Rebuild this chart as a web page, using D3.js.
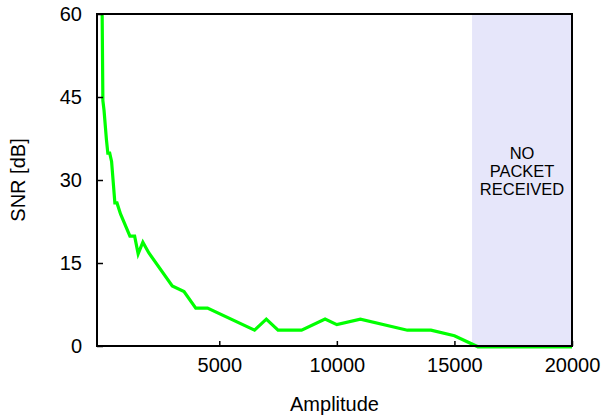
<!DOCTYPE html>
<html>
<head>
<meta charset="utf-8">
<script src="https://cdn.jsdelivr.net/npm/d3@7"></script>
<style>
body { margin: 0; background: #fff; }
text { font-family: "Liberation Sans", Arial, Helvetica, sans-serif; fill: #000; }
</style>
</head>
<body>
<div id="chart"></div>
<script>
// amplitude vs SNR
var amplitude = [0, 50, 100, 200, 260, 340, 420, 560, 650, 800, 1200, 1400, 1550, 1750, 2000,
  3000, 3500, 4000, 4500, 6500, 7000, 7500, 8500, 9500, 10000, 11000, 13000, 14000, 15000, 16000, 20000];
var snr = [70, 44.5, 42.7, 37.5, 35, 35, 33.5, 26, 26, 24, 20, 20, 16.8, 18.9, 17,
  11, 10, 7, 7, 3, 5, 3, 3, 5, 4, 5, 3, 3, 2, 0, 0];
var xTicks = [5000, 10000, 15000, 20000];
var yTicks = [0, 15, 30, 45, 60];
var noPacketFrom = 15750;
var noPacketLines = ["NO", "PACKET", "RECEIVED"];

var width = 605, height = 416;
var m = {left: 97, right: 33, top: 14, bottom: 70};
var w = width - m.left - m.right, h = height - m.top - m.bottom;

var svg = d3.select("#chart").append("svg").attr("width", width).attr("height", height);
var g = svg.append("g").attr("transform", "translate(" + m.left + "," + m.top + ")");

var x = d3.scaleLinear().domain([-200, 20000]).range([0, w]);
var y = d3.scaleLinear().domain([0, 60]).range([h, 0]);

// let the line show a bit under the bottom axis, like the original
g.append("clipPath").attr("id", "clip")
  .append("rect").attr("width", w).attr("height", h + 3);

// shaded area
g.append("rect")
  .attr("x", x(noPacketFrom)).attr("y", 0)
  .attr("width", x(20000) - x(noPacketFrom)).attr("height", h)
  .attr("fill", "#e6e6fa");

g.append("g").selectAll("text")
  .data(noPacketLines)
  .enter().append("text")
    .attr("x", (x(noPacketFrom) + x(20000)) / 2)
    .attr("y", function(d, i) { return 145 + i * 18; })
    .attr("text-anchor", "middle")
    .style("font-size", "16.5px")
    .text(function(d) { return d; });

var pts = amplitude.map(function(a, i) { return [a, snr[i]]; });
var line = d3.line().x(function(d) { return x(d[0]); }).y(function(d) { return y(d[1]) + 0.8; });

g.append("path")
  .datum(pts)
  .attr("clip-path", "url(#clip)")
  .attr("fill", "none")
  .attr("stroke", "#00ff00")
  .attr("stroke-width", 3.2)
  .attr("d", line);

// axes, ticks point inward
var xAxis = g.append("g").attr("transform", "translate(0," + h + ")")
  .call(d3.axisBottom(x).tickValues(xTicks).tickSize(-5).tickPadding(12).tickFormat(d3.format("d")));
var yAxis = g.append("g")
  .call(d3.axisLeft(y).tickValues(yTicks).tickSize(-6).tickPadding(15).tickFormat(d3.format("d")));

[xAxis, yAxis].forEach(function(a) {
  a.select(".domain").remove();
  a.selectAll("line").attr("stroke", "#000").attr("stroke-width", 1.5);
  a.selectAll("text").style("font-size", "20px").attr("fill", "#000")
    .style("font-family", "'Liberation Sans', Arial, sans-serif");
});

g.append("rect")
  .attr("width", w).attr("height", h)
  .attr("fill", "none").attr("stroke", "#000").attr("stroke-width", 2);

svg.append("text")
  .attr("x", m.left + w / 2).attr("y", 411)
  .attr("text-anchor", "middle")
  .style("font-size", "20px")
  .text("Amplitude");

svg.append("text")
  .attr("transform", "translate(25," + (m.top + h / 2) + ") rotate(-90)")
  .attr("text-anchor", "middle")
  .style("font-size", "20px")
  .text("SNR [dB]");
</script>
</body>
</html>
